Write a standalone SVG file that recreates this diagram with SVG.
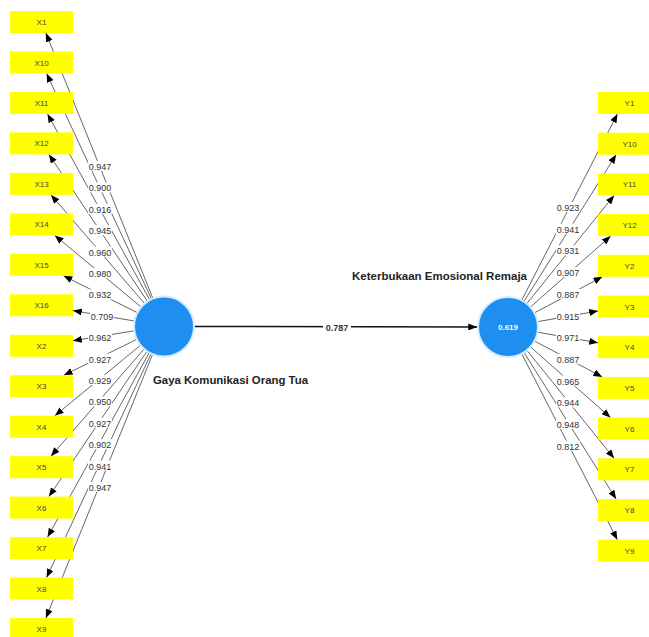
<svg xmlns="http://www.w3.org/2000/svg" width="649" height="637" viewBox="0 0 649 637">
<style>
.ind rect{fill:#ffff00;}
.ind text{font-family:"Liberation Sans",Arial,sans-serif;font-size:8px;fill:#444;text-anchor:middle;}
.ld{stroke:#555;stroke-width:0.9;fill:none;marker-end:url(#ah);}
.lb rect{fill:#fff;}
.lb text{font-family:"Liberation Sans",Arial,sans-serif;font-size:9px;fill:#333;text-anchor:middle;}
.lv circle{fill:#1e8ef0;stroke:#d6ecff;stroke-width:2;}
.lvname{font-family:"Liberation Sans",Arial,sans-serif;font-size:10px;font-weight:bold;fill:#222;}
</style>
<defs>
<marker id="ah" viewBox="0 0 10 8" refX="10" refY="4" markerWidth="9" markerHeight="7" orient="auto" markerUnits="userSpaceOnUse"><path d="M0,0 L10,4 L0,8 z" fill="#000"/></marker>
</defs>
<rect width="649" height="637" fill="#fff"/>
<g id="connectors">
<line class="ld" x1="152.8" y1="298.2" x2="45.9" y2="33"/>
<line class="ld" x1="151.4" y1="298.8" x2="46.6" y2="73.5"/>
<line class="ld" x1="149.6" y1="299.7" x2="47.5" y2="113.9"/>
<line class="ld" x1="147.3" y1="301.1" x2="48.9" y2="154.4"/>
<line class="ld" x1="144.4" y1="303.3" x2="51.0" y2="194.9"/>
<line class="ld" x1="140.9" y1="306.8" x2="54.8" y2="235.4"/>
<line class="ld" x1="137.2" y1="312.6" x2="63.5" y2="275.8"/>
<line class="ld" x1="134.4" y1="321.0" x2="73" y2="310.6"/>
<line class="ld" x1="134.4" y1="330.8" x2="73" y2="340.7"/>
<line class="ld" x1="137.1" y1="339.2" x2="63.9" y2="375.2"/>
<line class="ld" x1="140.8" y1="345.0" x2="54.9" y2="415.7"/>
<line class="ld" x1="144.3" y1="348.7" x2="51.0" y2="456.2"/>
<line class="ld" x1="147.2" y1="350.9" x2="48.9" y2="496.6"/>
<line class="ld" x1="149.5" y1="352.3" x2="47.6" y2="537.1"/>
<line class="ld" x1="151.3" y1="353.2" x2="46.6" y2="577.6"/>
<line class="ld" x1="152.8" y1="353.8" x2="45.9" y2="618"/>

<line class="ld" x1="521.7" y1="300.3" x2="617.4" y2="114"/>
<line class="ld" x1="523.9" y1="301.6" x2="616.1" y2="154.7"/>
<line class="ld" x1="526.8" y1="303.6" x2="614.1" y2="195.4"/>
<line class="ld" x1="530.4" y1="307.1" x2="610.6" y2="236.1"/>
<line class="ld" x1="534.5" y1="312.9" x2="602.3" y2="276.8"/>
<line class="ld" x1="537.5" y1="321.7" x2="598" y2="311.0"/>
<line class="ld" x1="537.5" y1="332.2" x2="598" y2="342.8"/>
<line class="ld" x1="534.5" y1="341.0" x2="602.2" y2="376.9"/>
<line class="ld" x1="530.5" y1="346.9" x2="610.5" y2="417.6"/>
<line class="ld" x1="526.9" y1="350.3" x2="614.1" y2="458.3"/>
<line class="ld" x1="524.0" y1="352.4" x2="616.1" y2="499"/>
<line class="ld" x1="521.7" y1="353.7" x2="617.3" y2="539.7"/>

<line x1="194" y1="326.5" x2="477" y2="327" stroke="#111" stroke-width="1.5" marker-end="url(#ah)"/>

<g class="lb">
<rect x="88" y="161" width="24" height="10"/><text x="100" y="170">0.947</text>
<rect x="88" y="182.4" width="24" height="10"/><text x="100" y="191.4">0.900</text>
<rect x="88" y="203.8" width="24" height="10"/><text x="100" y="212.8">0.916</text>
<rect x="88" y="225.2" width="24" height="10"/><text x="100" y="234.2">0.945</text>
<rect x="88" y="246.6" width="24" height="10"/><text x="100" y="255.6">0.960</text>
<rect x="88" y="268" width="24" height="10"/><text x="100" y="277">0.980</text>
<rect x="88" y="289.4" width="24" height="10"/><text x="100" y="298.4">0.932</text>
<rect x="90" y="310.8" width="24" height="10"/><text x="102" y="319.8">0.709</text>
<rect x="88" y="332.2" width="24" height="10"/><text x="100" y="341.2">0.962</text>
<rect x="88" y="353.6" width="24" height="10"/><text x="100" y="362.6">0.927</text>
<rect x="88" y="375" width="24" height="10"/><text x="100" y="384">0.929</text>
<rect x="88" y="396.4" width="24" height="10"/><text x="100" y="405.4">0.950</text>
<rect x="88" y="417.8" width="24" height="10"/><text x="100" y="426.8">0.927</text>
<rect x="88" y="439.2" width="24" height="10"/><text x="100" y="448.2">0.902</text>
<rect x="88" y="460.6" width="24" height="10"/><text x="100" y="469.6">0.941</text>
<rect x="88" y="482" width="24" height="10"/><text x="100" y="491">0.947</text>

<rect x="556" y="202" width="24" height="10"/><text x="568" y="211">0.923</text>
<rect x="556" y="223.7" width="24" height="10"/><text x="568" y="232.7">0.941</text>
<rect x="556" y="245.4" width="24" height="10"/><text x="568" y="254.4">0.931</text>
<rect x="556" y="267.1" width="24" height="10"/><text x="568" y="276.1">0.907</text>
<rect x="556" y="288.8" width="24" height="10"/><text x="568" y="297.8">0.887</text>
<rect x="556" y="310.5" width="24" height="10"/><text x="568" y="319.5">0.915</text>
<rect x="556" y="332.2" width="24" height="10"/><text x="568" y="341.2">0.971</text>
<rect x="556" y="353.9" width="24" height="10"/><text x="568" y="362.9">0.887</text>
<rect x="556" y="375.6" width="24" height="10"/><text x="568" y="384.6">0.965</text>
<rect x="556" y="397.3" width="24" height="10"/><text x="568" y="406.3">0.944</text>
<rect x="556" y="419" width="24" height="10"/><text x="568" y="428">0.948</text>
<rect x="556" y="440.7" width="24" height="10"/><text x="568" y="449.7">0.812</text>

<rect x="323" y="321.5" width="28" height="11"/><text x="337" y="330.5" font-weight="bold">0.787</text>
</g>
</g>

<g id="X1" class="ind"><rect x="10" y="11" width="63" height="22"/><text x="41.5" y="25">X1</text></g>
<g id="X10" class="ind"><rect x="10" y="51.5" width="63" height="22"/><text x="41.5" y="65.5">X10</text></g>
<g id="X11" class="ind"><rect x="10" y="91.9" width="63" height="22"/><text x="41.5" y="105.9">X11</text></g>
<g id="X12" class="ind"><rect x="10" y="132.4" width="63" height="22"/><text x="41.5" y="146.4">X12</text></g>
<g id="X13" class="ind"><rect x="10" y="172.9" width="63" height="22"/><text x="41.5" y="186.9">X13</text></g>
<g id="X14" class="ind"><rect x="10" y="213.35" width="63" height="22"/><text x="41.5" y="227.35">X14</text></g>
<g id="X15" class="ind"><rect x="10" y="253.8" width="63" height="22"/><text x="41.5" y="267.8">X15</text></g>
<g id="X16" class="ind"><rect x="10" y="294.3" width="63" height="22"/><text x="41.5" y="308.3">X16</text></g>
<g id="X2" class="ind"><rect x="10" y="334.8" width="63" height="22"/><text x="41.5" y="348.8">X2</text></g>
<g id="X3" class="ind"><rect x="10" y="375.2" width="63" height="22"/><text x="41.5" y="389.2">X3</text></g>
<g id="X4" class="ind"><rect x="10" y="415.7" width="63" height="22"/><text x="41.5" y="429.7">X4</text></g>
<g id="X5" class="ind"><rect x="10" y="456.2" width="63" height="22"/><text x="41.5" y="470.2">X5</text></g>
<g id="X6" class="ind"><rect x="10" y="496.6" width="63" height="22"/><text x="41.5" y="510.6">X6</text></g>
<g id="X7" class="ind"><rect x="10" y="537.1" width="63" height="22"/><text x="41.5" y="551.1">X7</text></g>
<g id="X8" class="ind"><rect x="10" y="577.6" width="63" height="22"/><text x="41.5" y="591.6">X8</text></g>
<g id="X9" class="ind"><rect x="10" y="618" width="63" height="22"/><text x="41.5" y="632">X9</text></g>

<g id="Y1" class="ind"><rect x="598" y="92" width="63" height="22"/><text x="629.5" y="106">Y1</text></g>
<g id="Y10" class="ind"><rect x="598" y="132.7" width="63" height="22"/><text x="629.5" y="146.7">Y10</text></g>
<g id="Y11" class="ind"><rect x="598" y="173.4" width="63" height="22"/><text x="629.5" y="187.4">Y11</text></g>
<g id="Y12" class="ind"><rect x="598" y="214.1" width="63" height="22"/><text x="629.5" y="228.1">Y12</text></g>
<g id="Y2" class="ind"><rect x="598" y="254.8" width="63" height="22"/><text x="629.5" y="268.8">Y2</text></g>
<g id="Y3" class="ind"><rect x="598" y="295.5" width="63" height="22"/><text x="629.5" y="309.5">Y3</text></g>
<g id="Y4" class="ind"><rect x="598" y="336.2" width="63" height="22"/><text x="629.5" y="350.2">Y4</text></g>
<g id="Y5" class="ind"><rect x="598" y="376.9" width="63" height="22"/><text x="629.5" y="390.9">Y5</text></g>
<g id="Y6" class="ind"><rect x="598" y="417.6" width="63" height="22"/><text x="629.5" y="431.6">Y6</text></g>
<g id="Y7" class="ind"><rect x="598" y="458.3" width="63" height="22"/><text x="629.5" y="472.3">Y7</text></g>
<g id="Y8" class="ind"><rect x="598" y="499" width="63" height="22"/><text x="629.5" y="513">Y8</text></g>
<g id="Y9" class="ind"><rect x="598" y="539.7" width="63" height="22"/><text x="629.5" y="553.7">Y9</text></g>

<g id="GayaKomunikasiOrangTua" class="lv">
<circle cx="164" cy="326.5" r="30"/>
<text class="lvname" x="153" y="384" textLength="155" lengthAdjust="spacingAndGlyphs">Gaya Komunikasi Orang Tua</text>
</g>
<g id="KeterbukaanEmosionalRemaja" class="lv">
<circle cx="508" cy="327" r="30"/>
<text x="508" y="330" font-family="Liberation Sans, Arial, sans-serif" font-size="8" font-weight="bold" fill="#fff" text-anchor="middle">0.619</text>
<text class="lvname" x="352" y="280" textLength="175" lengthAdjust="spacingAndGlyphs">Keterbukaan Emosional Remaja</text>
</g>
</svg>
